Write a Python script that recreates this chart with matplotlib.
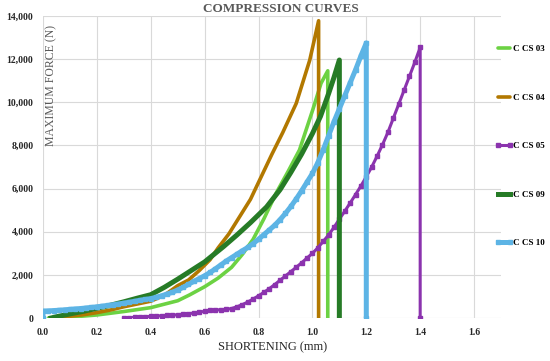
import matplotlib
matplotlib.use("Agg")
import matplotlib.pyplot as plt
from matplotlib.ticker import FuncFormatter

plt.rcParams['font.family'] = ['Liberation Serif', 'DejaVu Serif']

# shortening (mm) / force (N)
cs03_x = [0.02, 0.10, 0.20, 0.30, 0.40, 0.50, 0.544, 0.60, 0.65, 0.70, 0.74, 0.78, 0.82, 0.865,
          0.91, 0.952, 1.001, 1.032, 1.057, 1.057]
cs03_y = [0, 40, 140, 300, 480, 800, 1070, 1450, 1850, 2350, 2950, 3650, 4600, 5780,
          6800, 7790, 9640, 10880, 11460, 0]

cs04_x = [0.03, 0.07, 0.10, 0.15, 0.20, 0.25, 0.30, 0.35, 0.40, 0.45, 0.50, 0.54, 0.58, 0.62,
          0.65, 0.69, 0.73, 0.77, 0.81, 0.85, 0.89, 0.94, 0.99, 1.023, 1.023]
cs04_y = [0, 50, 80, 150, 250, 370, 520, 650, 780, 1050, 1500, 1760, 2200, 2700,
          3250, 3900, 4700, 5500, 6550, 7600, 8600, 9950, 11950, 13780, 0]

cs05_x = [0.30, 0.32, 0.34, 0.36, 0.38, 0.40, 0.42, 0.44, 0.46, 0.48, 0.50, 0.52, 0.54, 0.56,
          0.58, 0.60, 0.62, 0.64, 0.66, 0.68, 0.70, 0.72, 0.74, 0.76, 0.78, 0.80, 0.82, 0.84,
          0.86, 0.88, 0.90, 0.92, 0.94, 0.96, 0.98, 1.00, 1.02, 1.04, 1.06, 1.08, 1.10, 1.12,
          1.14, 1.16, 1.18, 1.20, 1.22, 1.24, 1.26, 1.28, 1.30, 1.32, 1.34, 1.36, 1.38, 1.40, 1.40]
cs05_y = [0, 15, 30, 45, 60, 75, 90, 105, 120, 135, 150, 175, 200, 230,
          270, 310, 350, 370, 385, 400, 440, 520, 620, 740, 880, 1030, 1190, 1360,
          1550, 1750, 1950, 2150, 2350, 2560, 2780, 3000, 3250, 3550, 3850, 4200, 4580, 4950,
          5330, 5720, 6120, 6550, 7000, 7500, 8030, 8600, 9250, 9900, 10550, 11200, 11850, 12550, 0]

cs09_x = [0.03, 0.05, 0.10, 0.15, 0.20, 0.25, 0.30, 0.35, 0.40, 0.45, 0.50, 0.55, 0.60, 0.67,
          0.72, 0.77, 0.83, 0.88, 0.92, 0.96, 1.00, 1.03, 1.06, 1.08, 1.10, 1.10]
cs09_y = [0, 60, 190, 310, 450, 590, 750, 920, 1080, 1420, 1800, 2200, 2600, 3310,
          3850, 4420, 5150, 5950, 6750, 7600, 8550, 9350, 10400, 11150, 11960, 0]

cs10_x = [0.00, 0.00, 0.02, 0.04, 0.06, 0.08, 0.10, 0.12, 0.14, 0.16, 0.18, 0.20, 0.22, 0.24,
          0.26, 0.28, 0.30, 0.32, 0.34, 0.36, 0.38, 0.40, 0.42, 0.44, 0.46, 0.48, 0.50, 0.52,
          0.54, 0.56, 0.58, 0.60, 0.62, 0.64, 0.66, 0.68, 0.70, 0.72, 0.74, 0.76, 0.78, 0.80,
          0.82, 0.84, 0.86, 0.88, 0.90, 0.92, 0.94, 0.96, 0.98, 1.00, 1.02, 1.04, 1.06, 1.08,
          1.10, 1.12, 1.14, 1.16, 1.18, 1.20, 1.20]
cs10_y = [0, 320, 330, 345, 360, 380, 400, 420, 440, 465, 490, 520, 550, 580,
          615, 650, 690, 730, 775, 820, 860, 900, 960, 1030, 1110, 1190, 1300, 1420,
          1560, 1700, 1830, 1960, 2110, 2280, 2460, 2640, 2800, 2960, 3120, 3270, 3450, 3650,
          3870, 4080, 4300, 4560, 4850, 5170, 5520, 5900, 6300, 6700, 7200, 7800, 8450, 9100,
          9700, 10300, 10900, 11500, 12150, 12750, 0]

x_ticks = [0.0, 0.2, 0.4, 0.6, 0.8, 1.0, 1.2, 1.4, 1.6]
y_ticks = [0, 2000, 4000, 6000, 8000, 10000, 12000, 14000]

fig = plt.figure(figsize=(5.5, 3.61), dpi=100)
ax = fig.add_axes([43 / 550, 1 - 318 / 361, 458 / 550, 302 / 361])

ax.plot(cs03_x, cs03_y, color='#6CD243', lw=2.6, label='C CS 03', solid_capstyle='round')
ax.plot(cs04_x, cs04_y, color='#B27800', lw=2.6, label='C CS 04', solid_capstyle='round')
ax.plot(cs05_x, cs05_y, color='#8B33AE', lw=2.2, marker='s', ms=2.8, label='C CS 05')
ax.plot(cs09_x, cs09_y, color='#267B26', lw=3.6, label='C CS 09')
ax.plot(cs10_x, cs10_y, color='#5DB4E5', lw=3.6, marker='s', ms=3.4, label='C CS 10')

ax.set_xlim(0, 1.7)
ax.set_ylim(0, 14000)
ax.set_xticks(x_ticks)
ax.set_yticks(y_ticks)
ax.yaxis.set_major_formatter(FuncFormatter(lambda v, p: f'{int(v):,}'))
ax.xaxis.set_major_formatter(FuncFormatter(lambda v, p: f'{v:.1f}'))
ax.grid(True, color='#d9d9d9', lw=0.8)
ax.set_axisbelow(True)
for s in ax.spines.values():
    s.set_visible(False)
ax.tick_params(length=0, labelsize=7, labelcolor='#262626', pad=7)
for lab in ax.get_xticklabels() + ax.get_yticklabels():
    lab.set_fontweight('bold')

fig.text(281 / 550, 1 - 9 / 361, 'COMPRESSION CURVES', ha='center', va='center',
         fontsize=9.5, fontweight='bold', color='#595959')
fig.text(51 / 550, 1 - 85 / 361, 'MAXIMUM FORCE (N)', rotation=90, ha='center', va='center',
         fontsize=8.5, color='#595959')
fig.text(273 / 550, 1 - 347 / 361, 'SHORTENING (mm)', ha='center', va='center',
         fontsize=9, color='#262626')

ax.legend(loc='upper left', bbox_to_anchor=(495 / 550, 1 - 45 / 361), bbox_transform=fig.transFigure,
          frameon=False, borderpad=0, borderaxespad=0, handlelength=2.0, handletextpad=0.0,
          labelspacing=4.45, numpoints=2, prop={'size': 6.5, 'weight': 'bold'})

fig.savefig('out.png', dpi=100)
